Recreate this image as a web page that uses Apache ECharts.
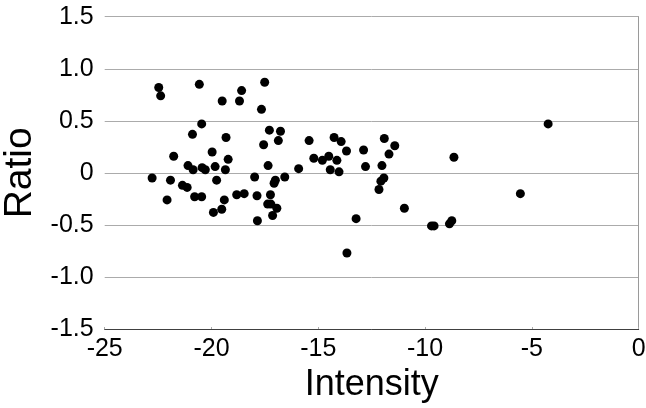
<!DOCTYPE html>
<html>
<head>
<meta charset="utf-8">
<script src="https://cdn.jsdelivr.net/npm/echarts@6/dist/echarts.min.js"></script>
<style>
  html, body { margin: 0; padding: 0; background: #fff; }
  #chart { width: 646px; height: 408px; }
</style>
</head>
<body>
<div id="chart"></div>
<script>
// Intensity (x) vs Ratio (y)
const intensity = [
  -22.47, -22.38, -20.57, -19.50, -18.59, -18.69, -17.51, -17.66, -20.46, -20.89,
  -19.32, -17.29, -17.56, -21.77, -19.97, -19.22, -21.10, -20.86, -20.44, -20.29,
  -19.83, -19.35, -17.35, -22.78, -21.92, -19.76, -17.98, -21.36, -21.14, -22.08,
  -20.79, -20.46, -19.40, -18.82, -18.47, -17.87, -19.91, -19.52, -17.85, -16.77,
  -16.87, -15.43, -14.26, -13.93, -13.68, -12.88, -11.91, -15.21, -14.81, -14.51,
  -14.13, -15.92, -14.44, -14.03, -12.79, -12.02, -16.57, -17.01, -17.07, -17.24,
  -17.37, -17.22, -16.94, -17.14, -13.23, -13.66, -12.16, -12.07, -11.93, -11.42,
  -11.69, -10.97, -9.70, -9.58, -8.86, -8.75, -8.65, -5.54, -4.24
];
const ratio = [
  0.82, 0.74, 0.85, 0.69, 0.79, 0.69, 0.87, 0.61, 0.47, 0.37,
  0.34, 0.41, 0.27, 0.16, 0.20, 0.13, 0.07, 0.03, 0.05, 0.03,
  0.06, 0.03, 0.07, -0.05, -0.07, -0.07, -0.04, -0.12, -0.14, -0.26,
  -0.23, -0.23, -0.26, -0.21, -0.20, -0.22, -0.38, -0.35, -0.46, 0.40,
  0.31, 0.31, 0.34, 0.30, 0.21, 0.22, 0.33, 0.14, 0.12, 0.16,
  0.12, 0.04, 0.03, 0.01, 0.06, 0.07, -0.04, -0.07, -0.10, -0.21,
  -0.30, -0.30, -0.34, -0.41, -0.44, -0.77, -0.16, -0.08, -0.05, 0.26,
  0.18, -0.34, -0.51, -0.51, -0.49, -0.46, 0.15, -0.20, 0.47
];
const xTicks = [-25, -20, -15, -10, -5, 0];
const yTicks = [-1.5, -1.0, -0.5, 0, 0.5, 1.0, 1.5];

const chart = echarts.init(document.getElementById('chart'));

const font = 'Liberation Sans, Arial, sans-serif';

chart.setOption({
  animation: false,
  grid: {
    left: 104.7,
    right: 7.3,
    top: 16.7,
    bottom: 79,
    containLabel: false,
    outerBoundsMode: 'none'
  },
  xAxis: {
    type: 'value',
    min: xTicks[0],
    max: xTicks[xTicks.length - 1],
    interval: 5,
    name: 'Intensity',
    nameLocation: 'middle',
    nameGap: 36,
    nameTextStyle: { fontFamily: font, fontSize: 36, color: '#000' },
    axisLine: { onZero: false, lineStyle: { color: '#404040', width: 1 } },
    axisTick: { show: true, inside: true, length: 2, lineStyle: { color: '#aaa' } },
    axisLabel: {
      fontFamily: font, fontSize: 25, color: '#000', margin: 8,
      formatter: v => String(v)
    },
    splitLine: { show: false }
  },
  yAxis: {
    type: 'value',
    min: yTicks[0],
    max: yTicks[yTicks.length - 1],
    interval: 0.5,
    name: 'Ratio',
    nameLocation: 'middle',
    nameGap: 64,
    nameRotate: 90,
    nameTextStyle: { fontFamily: font, fontSize: 39, color: '#000' },
    axisLine: { show: true, lineStyle: { color: '#9a9a9a', width: 1 } },
    axisTick: { show: false },
    axisLabel: {
      fontFamily: font, fontSize: 25, color: '#000', margin: 11,
      formatter: v => (v === 0 ? '0' : v.toFixed(1))
    },
    splitLine: { show: true, lineStyle: { color: '#ababab', width: 1 } }
  },
  series: [{
    type: 'scatter',
    data: intensity.map((x, i) => [x, ratio[i]]),
    symbol: 'circle',
    symbolSize: 9,
    itemStyle: { color: '#000', opacity: 1 }
  }]
});
</script>
</body>
</html>
